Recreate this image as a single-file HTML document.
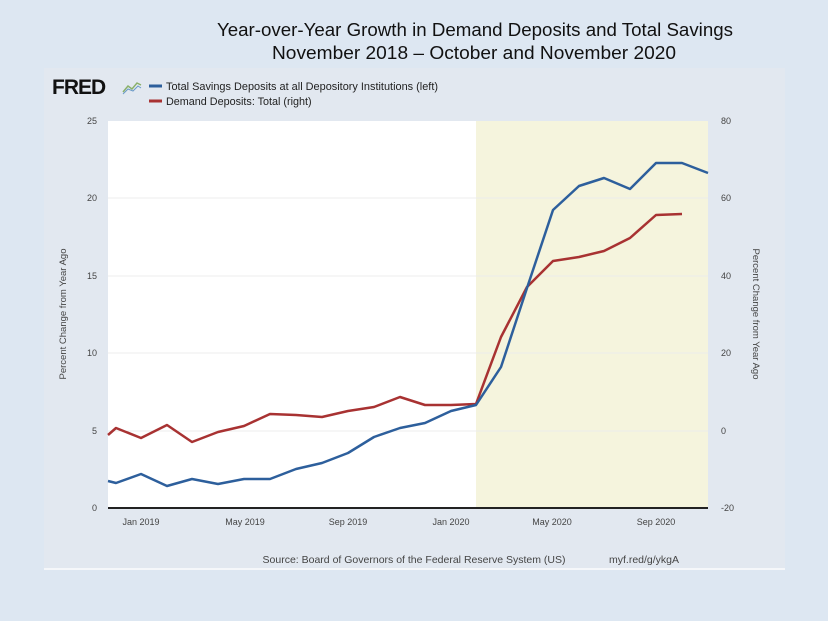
<!DOCTYPE html>
<html><head><meta charset="utf-8"><style>
html,body{margin:0;padding:0;background:#dde7f2;}
body{width:828px;height:621px;position:relative;overflow:hidden;font-family:"Liberation Sans",sans-serif;}
</style></head><body>
<svg width="828" height="621" xmlns="http://www.w3.org/2000/svg" style="position:absolute;left:0;top:0">
<rect x="0" y="0" width="828" height="621" fill="#dde7f2"/>
<rect x="44" y="68" width="741" height="500" fill="#e2e8f0"/>
<line x1="44" y1="569" x2="785" y2="569" stroke="#f5f7fa" stroke-width="2"/>
<text x="475" y="36" font-size="18.6" text-anchor="middle" fill="#111" font-family="Liberation Sans,sans-serif" textLength="516" lengthAdjust="spacingAndGlyphs">Year-over-Year Growth in Demand Deposits and Total Savings</text>
<text x="474" y="59" font-size="18.6" text-anchor="middle" fill="#111" font-family="Liberation Sans,sans-serif" textLength="404" lengthAdjust="spacingAndGlyphs">November 2018 – October and November 2020</text>
<text x="52" y="94" font-size="21" font-weight="bold" fill="#111" font-family="Liberation Sans,sans-serif" letter-spacing="-1">FRED</text>
<polyline points="123,92 128,86 132,89 137,83 141,85" fill="none" stroke="#8ab06a" stroke-width="1.5"/>
<polyline points="123,94 128,89 133,91 138,86 141,88" fill="none" stroke="#6a9ac8" stroke-width="1"/>
<line x1="149" y1="86" x2="162" y2="86" stroke="#2d5f9c" stroke-width="3"/>
<text x="166" y="90" font-size="10.8" fill="#222" textLength="272" lengthAdjust="spacingAndGlyphs">Total Savings Deposits at all Depository Institutions (left)</text>
<line x1="149" y1="101" x2="162" y2="101" stroke="#a83232" stroke-width="3"/>
<text x="166" y="105" font-size="10.8" fill="#222">Demand Deposits: Total (right)</text>
<rect x="108" y="121" width="600" height="387" fill="#ffffff"/>
<rect x="476" y="121" width="232" height="387" fill="#f5f4dd"/>
<g stroke="#ececec" stroke-width="1">
<line x1="108" y1="198" x2="708" y2="198"/><line x1="108" y1="276" x2="708" y2="276"/>
<line x1="108" y1="353" x2="708" y2="353"/><line x1="108" y1="431" x2="708" y2="431"/>
</g>
<line x1="108" y1="508" x2="708" y2="508" stroke="#222" stroke-width="2"/>
<g font-size="9" fill="#444" text-anchor="end">
<text x="97" y="124">25</text><text x="97" y="201">20</text><text x="97" y="279">15</text>
<text x="97" y="356">10</text><text x="97" y="434">5</text><text x="97" y="511">0</text>
</g>
<g font-size="9" fill="#444" text-anchor="start">
<text x="721" y="124">80</text><text x="721" y="201">60</text><text x="721" y="279">40</text>
<text x="721" y="356">20</text><text x="721" y="434">0</text><text x="721" y="511">-20</text>
</g>
<g font-size="9" fill="#444" text-anchor="middle">
<text x="141" y="525">Jan 2019</text><text x="245" y="525">May 2019</text><text x="348" y="525">Sep 2019</text>
<text x="451" y="525">Jan 2020</text><text x="552" y="525">May 2020</text><text x="656" y="525">Sep 2020</text>
</g>
<text transform="translate(66,314) rotate(-90)" font-size="9.5" fill="#444" text-anchor="middle">Percent Change from Year Ago</text>
<text transform="translate(753,314) rotate(90)" font-size="9.5" fill="#444" text-anchor="middle">Percent Change from Year Ago</text>
<polyline fill="none" stroke="#a83232" stroke-width="2.5" stroke-linejoin="round" points="108,435 116,428 141,438 167,425 192,442 218,432 244,426 270,414 296,415 322,417 348,411 374,407 400,397 425,405 451,405 476,404 501,337 527,287 553,261 579,257 604,251 630,238 656,215 682,214"/>
<polyline fill="none" stroke="#2d5f9c" stroke-width="2.5" stroke-linejoin="round" points="108,481 116,483 141,474 167,486 192,479 218,484 244,479 270,479 296,469 322,463 348,453 374,437 400,428 425,423 451,411 476,405 501,367 527,288 553,210 579,186 604,178 630,189 656,163 682,163 708,173"/>
<text x="414" y="563" font-size="10.5" fill="#444" text-anchor="middle" textLength="303" lengthAdjust="spacingAndGlyphs">Source: Board of Governors of the Federal Reserve System (US)</text>
<text x="609" y="563" font-size="10.5" fill="#444">myf.red/g/ykgA</text>
</svg>
</body></html>
